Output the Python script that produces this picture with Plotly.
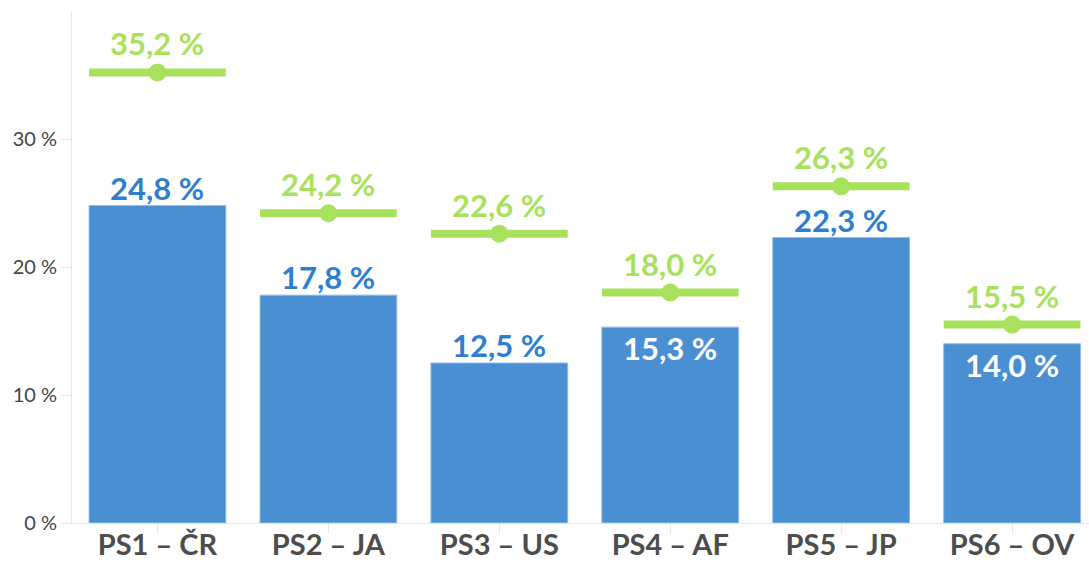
import plotly.graph_objects as go

categories = ["PS1 – ČR", "PS2 – JA", "PS3 – US", "PS4 – AF", "PS5 – JP", "PS6 – OV"]
bar_values = [24.8, 17.8, 12.5, 15.3, 22.3, 14.0]
target_values = [35.2, 24.2, 22.6, 18.0, 26.3, 15.5]
bar_label_inside = [False, False, False, True, False, True]
y_ticks = [0, 10, 20, 30]

BLUE = "#4a8fd1"
BLUE_TEXT = "#2f7fcf"
GREEN = "#a8e25c"
FONT = "Lato"


def fmt(v):
    return f"{v:.1f}".replace(".", ",") + " %"


xs = list(range(len(categories)))
half = 0.4

fig = go.Figure()
fig.add_trace(go.Bar(
    x=xs, y=bar_values, width=0.8,
    marker=dict(color=BLUE, line=dict(color="#8fbbe6", width=1)),
    hoverinfo="skip",
))

# horizontal target segments across each bar
seg_x, seg_y = [], []
for i, v in zip(xs, target_values):
    seg_x += [i - half, i + half, None]
    seg_y += [v, v, None]
fig.add_trace(go.Scatter(x=seg_x, y=seg_y, mode="lines",
                         line=dict(color=GREEN, width=8), hoverinfo="skip"))
fig.add_trace(go.Scatter(x=xs, y=target_values, mode="markers",
                         marker=dict(color=GREEN, size=18), hoverinfo="skip"))

annotations = []
for i, v in zip(xs, target_values):
    annotations.append(dict(x=i, y=v, text=fmt(v), showarrow=False, yshift=29,
                            font=dict(family=FONT, size=31, color=GREEN,
                                      weight="bold")))
for i, v, inside in zip(xs, bar_values, bar_label_inside):
    annotations.append(dict(x=i, y=v, text=fmt(v), showarrow=False,
                            yshift=-21 if inside else 18,
                            font=dict(family=FONT, size=31, weight="bold",
                                      color="white" if inside else BLUE_TEXT)))

fig.update_layout(
    width=1089, height=564,
    margin=dict(l=72, r=0, t=11, b=41),
    plot_bgcolor="white", paper_bgcolor="white",
    showlegend=False,
    annotations=annotations,
    font=dict(family=FONT),
)
fig.update_xaxes(
    range=[-0.5, 5.45], tickvals=xs, ticktext=categories,
    showgrid=False, zeroline=False, automargin=False,
    showline=True, linecolor="#e6e6e6", linewidth=1,
    ticks="outside", ticklen=10, tickcolor="#e6e6e6",
    ticklabelstandoff=-14,
    tickfont=dict(family=FONT, size=29, color="#4d4d4d", weight="bold"),
)
fig.update_yaxes(
    range=[0, 40], tickvals=y_ticks, ticktext=[f"{t} %" for t in y_ticks],
    showgrid=False, zeroline=False, automargin=False,
    showline=True, linecolor="#e6e6e6", linewidth=1,
    ticks="outside", ticklen=10, tickcolor="#e6e6e6",
    tickfont=dict(family=FONT, size=20, color="#444444"),
)

fig.write_html("out.html")
